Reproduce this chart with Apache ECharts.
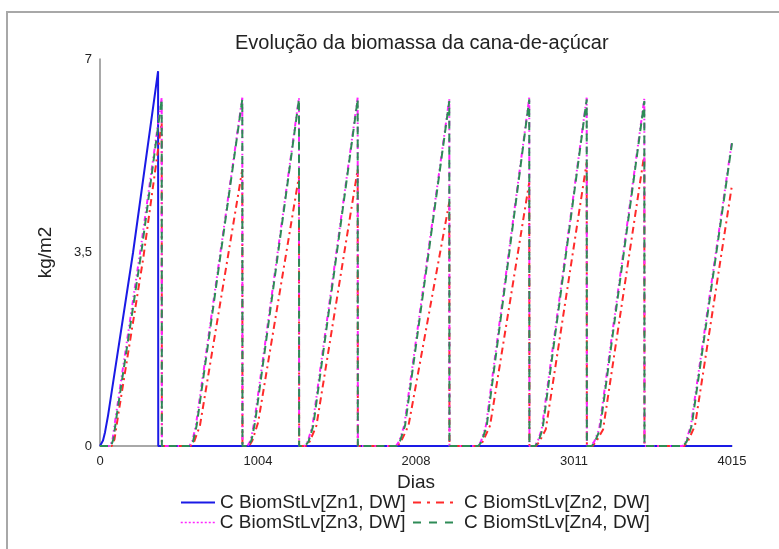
<!DOCTYPE html>
<html>
<head>
<meta charset="utf-8">
<script src="https://cdn.jsdelivr.net/npm/echarts@6/dist/echarts.min.js"></script>
<style>html,body{margin:0;padding:0;background:#fff;}#c{width:779px;height:549px;}</style>
</head>
<body>
<div id="c"></div>
<script>
// ---- data (days, kg/m2) ----
const seriesNames = ['C BiomStLv[Zn1, DW]', 'C BiomStLv[Zn2, DW]', 'C BiomStLv[Zn3, DW]', 'C BiomStLv[Zn4, DW]'];
const xTicks = [0, 1004, 2008, 3011, 4015];
const yTicks = ['0', '3,5', '7'];

const zn1Days = [0, 19, 32, 51, 210, 369, 370, 4015];
const zn1Vals = [0, 0.1, 0.25, 0.55, 3.5, 6.78, 0, 0];

const zn4Days = [0, 70, 85, 106, 265, 392, 393,
  572, 591, 614, 904, 905,
  942, 962, 985, 1264, 1265,
  1302, 1325, 1355, 1637, 1638,
  1885, 1905, 1938, 2219, 2220,
  2403, 2425, 2457, 2727, 2728,
  2764, 2785, 2811, 3092, 3093,
  3124, 3145, 3176, 3458, 3459,
  3706, 3727, 3759, 4015];
const zn4Vals = [0, 0, 0.12, 0.55, 3.55, 6.27, 0,
  0, 0.08, 0.37, 6.27, 0,
  0, 0.1, 0.43, 6.27, 0,
  0, 0.08, 0.37, 6.27, 0,
  0, 0.08, 0.37, 6.24, 0,
  0, 0.08, 0.37, 6.27, 0,
  0, 0.08, 0.3, 6.27, 0,
  0, 0.08, 0.3, 6.24, 0,
  0, 0.08, 0.37, 5.48];

const zn3Days = [0, 65, 80, 101, 260, 392, 393,
  567, 586, 609, 904, 905,
  937, 957, 980, 1264, 1265,
  1297, 1320, 1350, 1637, 1638,
  1880, 1900, 1933, 2219, 2220,
  2398, 2420, 2452, 2727, 2728,
  2759, 2780, 2806, 3092, 3093,
  3119, 3140, 3171, 3458, 3459,
  3701, 3722, 3754, 4015];
const zn3Vals = [0, 0, 0.12, 0.55, 3.6, 6.3, 0,
  0, 0.08, 0.37, 6.3, 0,
  0, 0.1, 0.43, 6.3, 0,
  0, 0.08, 0.37, 6.3, 0,
  0, 0.08, 0.37, 6.28, 0,
  0, 0.08, 0.37, 6.3, 0,
  0, 0.08, 0.3, 6.3, 0,
  0, 0.08, 0.3, 6.28, 0,
  0, 0.08, 0.37, 5.52];

const zn2Days = [0, 75, 92, 115, 275, 392, 393,
  577, 598, 635, 904, 905,
  947, 968, 1005, 1264, 1265,
  1307, 1332, 1375, 1637, 1638,
  1890, 1912, 1960, 2219, 2220,
  2408, 2432, 2478, 2727, 2728,
  2769, 2792, 2832, 3092, 3093,
  3129, 3152, 3196, 3458, 3459,
  3711, 3734, 3780, 4015];
const zn2Vals = [0, 0, 0.12, 0.55, 3.4, 5.85, 0,
  0, 0.08, 0.37, 5.0, 0,
  0, 0.1, 0.43, 4.88, 0,
  0, 0.08, 0.37, 5.0, 0,
  0, 0.08, 0.37, 4.41, 0,
  0, 0.08, 0.37, 4.77, 0,
  0, 0.08, 0.3, 5.13, 0,
  0, 0.08, 0.3, 5.28, 0,
  0, 0.08, 0.37, 4.72];

function pairs(d, v) { return d.map((x, i) => [x, v[i]]); }

const chart = echarts.init(document.getElementById('c'));
const font = 'Liberation Sans, Arial, sans-serif';
const txt = '#222';

function leg(name, left, top, w, ls) {
  const item = { name: name };
  if (ls) item.lineStyle = ls;
  return {
    orient: 'horizontal', left: left, top: top, itemWidth: w, itemHeight: 10, itemGap: 0, padding: 0,
    itemStyle: { opacity: 0 },
    textStyle: { fontFamily: font, fontSize: 19, color: txt },
    data: [item]
  };
}

chart.setOption({
  animation: false,
  backgroundColor: '#fff',
  title: {
    text: 'Evolução da biomassa da cana-de-açúcar',
    left: 230, top: 28,
    textStyle: { fontFamily: font, fontSize: 20, fontWeight: 'normal', color: txt }
  },
  graphic: [{
    type: 'rect', shape: { x: 7, y: 12, width: 900, height: 700 },
    style: { fill: 'none', stroke: '#a8a8a8', lineWidth: 2 }, silent: true, z: -1
  }],
  grid: { left: 100, right: 47, top: 59, bottom: 103, containLabel: false },
  xAxis: {
    type: 'value', min: 0, max: 4015, interval: 1003.75,
    name: 'Dias', nameLocation: 'middle', nameGap: 26,
    nameTextStyle: { fontFamily: font, fontSize: 19, color: txt },
    axisLine: { show: true, onZero: false, lineStyle: { color: '#8c8c8c', width: 1.5 } },
    axisTick: { show: false },
    splitLine: { show: false },
    axisLabel: {
      fontFamily: font, fontSize: 13, color: txt, margin: 9,
      formatter: v => String(xTicks.reduce((a, b) => Math.abs(b - v) < Math.abs(a - v) ? b : a))
    }
  },
  yAxis: {
    type: 'value', min: 0, max: 7, interval: 3.5,
    name: 'kg/m2', nameLocation: 'middle', nameGap: 45,
    nameTextStyle: { fontFamily: font, fontSize: 19, color: txt },
    axisLine: { show: true, lineStyle: { color: '#8c8c8c', width: 1.5 } },
    axisTick: { show: false },
    splitLine: { show: false },
    axisLabel: {
      fontFamily: font, fontSize: 13, color: txt, margin: 8,
      formatter: v => yTicks[Math.round(v / 3.5)]
    }
  },
  legend: [
    leg(seriesNames[0], 180, 493, 34, null),
    leg(seriesNames[1], 412, 493, 46, { type: [8, 6, 3, 6], width: 2 }),
    leg(seriesNames[2], 180, 513, 34, { type: [2, 2], width: 1.5 }),
    leg(seriesNames[3], 412, 513, 46, { type: [8, 8], width: 2 })
  ],
  series: [
    { name: seriesNames[0], type: 'line', data: pairs(zn1Days, zn1Vals), showSymbol: false, symbol: 'none',
      lineStyle: { color: '#1a1ae6', width: 2 }, itemStyle: { color: '#1a1ae6' }, z: 2 },
    { name: seriesNames[1], type: 'line', data: pairs(zn2Days, zn2Vals), showSymbol: false, symbol: 'none',
      lineStyle: { color: '#ff2a2a', width: 2, type: [7, 4, 2, 4] }, itemStyle: { color: '#ff2a2a' }, z: 3 },
    { name: seriesNames[2], type: 'line', data: pairs(zn3Days, zn3Vals), showSymbol: false, symbol: 'none',
      lineStyle: { color: '#ff22ff', width: 2, type: [5, 3, 1.5, 3, 1.5, 3] }, itemStyle: { color: '#ff22ff' }, z: 4 },
    { name: seriesNames[3], type: 'line', data: pairs(zn4Days, zn4Vals), showSymbol: false, symbol: 'none',
      lineStyle: { color: '#2e8b57', width: 2, type: [8, 5] }, itemStyle: { color: '#2e8b57' }, z: 5 }
  ]
});
</script>
</body>
</html>
